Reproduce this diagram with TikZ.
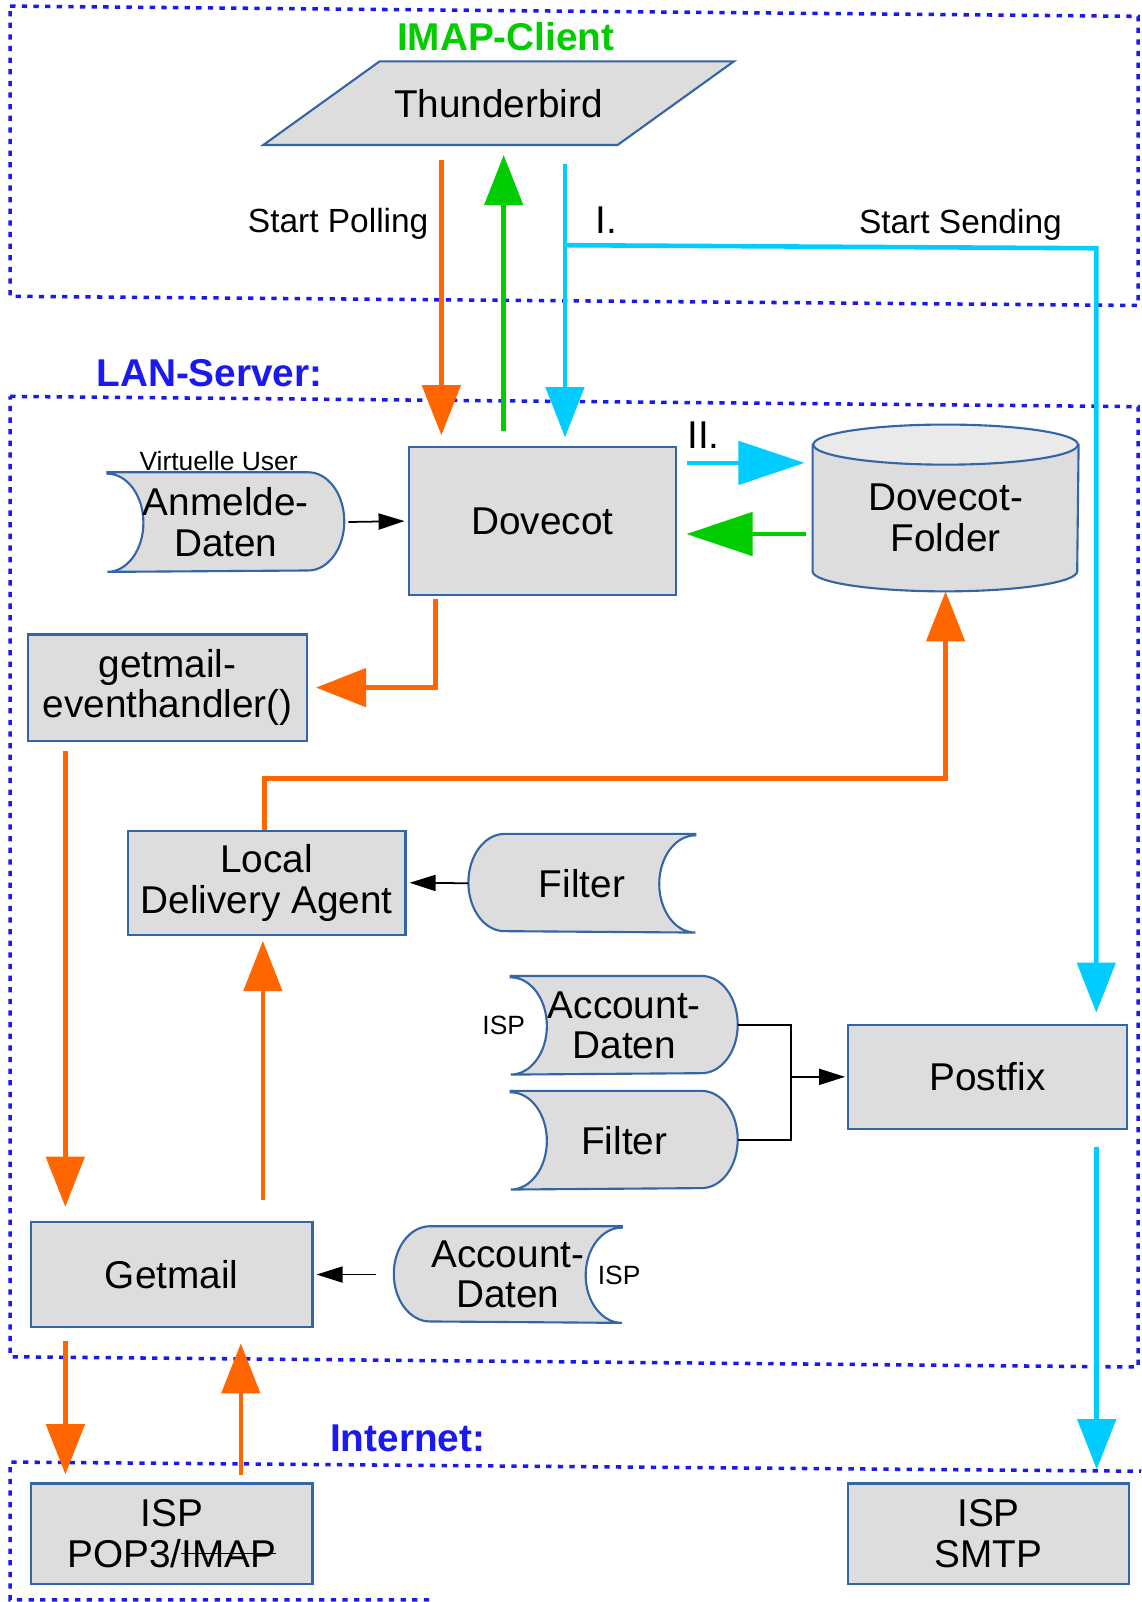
\documentclass[tikz,border=0pt]{standalone}
\usepackage{fontspec}
\setmainfont{Liberation Sans}
\usetikzlibrary{arrows.meta,backgrounds}

\definecolor{boxfill}{HTML}{DDDDDD}
\definecolor{boxtop}{HTML}{EAEAEA}
\definecolor{boxline}{HTML}{3465A4}
\definecolor{pollcol}{HTML}{FF6600}
\definecolor{replycol}{HTML}{00CC00}
\definecolor{sendcol}{HTML}{00CCFF}
\definecolor{zonecol}{HTML}{1A1AF0}

\tikzset{
  box/.style={draw=boxline, fill=boxfill, line width=0.6pt, inner sep=0pt,
    align=center, font=\fontsize{11}{11.5}\selectfont},
  store/.style={inner sep=0pt, align=center, font=\fontsize{11}{11.5}\selectfont},
  shapeline/.style={draw=boxline, fill=boxfill, line width=0.6pt},
  zone/.style={draw=zonecol, line width=1pt, dash pattern=on 1.5pt off 1.8pt},
  zonelabel/.style={font=\bfseries\fontsize{11}{12}\selectfont},
  note/.style={inner sep=0pt, font=\fontsize{9.5}{11}\selectfont},
  steplabel/.style={inner sep=0pt, font=\fontsize{11}{12}\selectfont},
  small/.style={font=\fontsize{7.5}{9}\selectfont},
  flow/.style={line width=1.3pt, -{Triangle[length=0.5cm,width=0.38cm]}},
  wideflow/.style={line width=1.3pt, -{Triangle[length=0.66cm,width=0.43cm]}},
  link/.style={line width=0.5pt, -{Triangle[length=0.26cm,width=0.16cm]}},
}

% struck-out word
\newcommand{\strikeword}[1]{\setbox0\hbox{#1}\rlap{\rule[0.33em]{\wd0}{0.5pt}}\box0}
% data store, hollow on the left
\newcommand{\storeleft}[2]{%
  \path[shapeline] (#1.north west) -- ([xshift=-0.36cm]#1.north east)
    arc[start angle=90, end angle=-90, x radius=0.36cm, y radius=#2]
    -- (#1.south west)
    arc[start angle=-90, end angle=90, x radius=0.36cm, y radius=#2] -- cycle;}
% data store, hollow on the right
\newcommand{\storeright}[2]{%
  \path[shapeline] (#1.north east) -- ([xshift=0.36cm]#1.north west)
    arc[start angle=90, end angle=270, x radius=0.36cm, y radius=#2]
    -- (#1.south east)
    arc[start angle=270, end angle=90, x radius=0.36cm, y radius=#2] -- cycle;}

\begin{document}
\begin{tikzpicture}[x=0.0102cm, y=-0.0102cm]
\useasboundingbox (0,0) rectangle (1117,1568);

% zones
\draw[zone] (10,6) -- (1114,16) -- (1114,299) -- (10,290) -- cycle;
\draw[zone] (10,388) -- (1114,398) -- (1114,1338) -- (10,1328) -- cycle;
\draw[zone] (420,1566) -- (10,1566) -- (10,1431) -- (1117,1440);

\node[zonelabel, text=replycol] (client) at (495,36) {IMAP-Client};
\node[zonelabel, text=zonecol] (lan) at (205,365) {LAN-Server:};
\node[zonelabel, text=zonecol] (net) at (399,1408) {Internet:};

% client
\node[store, minimum width=3.52cm, minimum height=0.82cm] (tb) at (488,101) {Thunderbird};

% server
\node[box, minimum width=2.67cm, minimum height=1.47cm] (dove) at (531,510) {Dovecot};
\node[store, minimum width=2.35cm, minimum height=0.98cm] (anm) at (221,511) {Anmelde-\\Daten};
\node[small] (vuser) at (214,451) {Virtuelle User};
\node[store, minimum width=2.64cm, minimum height=1.45cm] (fold) at (925.5,507) {Dovecot-\\Folder};
\node[box, minimum width=2.78cm, minimum height=1.06cm] (geh) at (164,673) {getmail-\\eventhandler()};
\node[box, minimum width=2.77cm, minimum height=1.04cm] (lda) at (261,864) {Local\\Delivery Agent};
\node[store, minimum width=2.25cm, minimum height=0.97cm] (filt1) at (569.5,864.5) {Filter};
\node[store, minimum width=2.25cm, minimum height=0.97cm] (acc1) at (611,1003.5) {Account-\\Daten};
\node[small] (isp1) at (493,1004) {ISP};
\node[store, minimum width=2.25cm, minimum height=0.97cm] (filt2) at (611,1116) {Filter};
\node[box, minimum width=2.78cm, minimum height=1.04cm] (post) at (966.5,1054) {Postfix};
\node[box, minimum width=2.81cm, minimum height=1.05cm] (gm) at (168,1247.5) {Getmail};
\node[store, minimum width=2.26cm, minimum height=0.95cm] (acc2) at (497,1247.5) {Account-\\Daten};
\node[small] (isp2) at (606,1248) {ISP};

% internet
\node[box, minimum width=2.81cm, minimum height=1.0cm] (pop) at (168,1501) {ISP\\POP3/\strikeword{IMAP}};
\node[box, minimum width=2.81cm, minimum height=1.0cm] (smtp) at (967.5,1501) {ISP\\SMTP};

\begin{scope}[on background layer]
  \path[shapeline] ([xshift=0.58cm]tb.north west) -- ([xshift=0.58cm]tb.north east)
    -- ([xshift=-0.58cm]tb.south east) -- ([xshift=-0.58cm]tb.south west) -- cycle;
  \storeleft{anm}{0.49cm}
  \storeleft{acc1}{0.485cm}
  \storeleft{filt2}{0.485cm}
  \storeright{filt1}{0.485cm}
  \storeright{acc2}{0.475cm}
  % folder cylinder
  \path[shapeline] (fold.north west) -- ([yshift=0.2cm]fold.south west)
    arc[start angle=180, end angle=360, x radius=1.32cm, y radius=0.2cm]
    -- (fold.north east) -- cycle;
  \path[shapeline, fill=boxtop] (fold.north) ellipse [x radius=1.32cm, y radius=0.2cm];
\end{scope}

% polling / reply / sending
\coordinate (pollstart) at (432,157);
\coordinate (replyfoot) at (493,422);
\coordinate (sendstart) at (553,161);
\coordinate (sendfork) at (553,240);
\coordinate (sendturn) at (1073,243);
\draw[flow, pollcol, shorten >=0.11cm] (pollstart) -- (pollstart |- dove.north);
\draw[flow, replycol, shorten >=0.1cm] (replyfoot) -- (replyfoot |- tb.south);
\draw[flow, sendcol, shorten >=0.09cm] (sendstart) -- (sendstart |- dove.north);
\draw[flow, sendcol, shorten >=0.11cm] (sendfork) -- (sendturn) -- (sendturn |- post.north);
\node[note, anchor=base east] (polltxt) at (420,228) {Start Polling};
\node[steplabel, anchor=base west] (step1) at (582,229) {I.};
\node[note, anchor=base] (sendtxt) at (940,229) {Start Sending};
\node[steplabel, anchor=base west] (step2) at (672,439) {II.};

\draw[link, shorten <=0.04cm, shorten >=0.03cm] (anm.east) -- (dove.west);
\draw[wideflow, sendcol, shorten <=0.1cm, shorten >=0.08cm] ([yshift=0.58cm]dove.east) -- ([yshift=0.58cm]dove.east -| fold.west);
\draw[wideflow, replycol, shorten <=0.07cm, shorten >=0.09cm] ([yshift=-0.16cm]fold.west) -- ([yshift=-0.16cm]fold.west -| dove.east);

% fetching
\coordinate (ldaturn) at (259,762);
\draw[flow, pollcol, shorten <=0.03cm, shorten >=0.08cm] ([xshift=-1.07cm]dove.south) |- (geh.east);
\draw[flow, pollcol, shorten <=0.09cm, shorten >=0.14cm] ([xshift=-1.02cm]geh.south) -- ([xshift=-1.02cm]geh.south |- gm.north);
\draw[flow, pollcol, shorten <=0.21cm, shorten >=0.05cm] ([xshift=0.91cm]gm.north) -- ([xshift=0.91cm]gm.north |- lda.south);
\draw[flow, pollcol] (lda.north -| ldaturn) -- (ldaturn) -| (fold.south);
\draw[link, shorten >=0.03cm] (filt1.west) -- (lda.east);
\draw[link, shorten <=0.18cm, shorten >=0.03cm] (acc2.west) -- (gm.east);
\draw[flow, pollcol, shorten <=0.13cm, shorten >=0.08cm] ([xshift=-1.06cm]gm.south) -- ([xshift=-1.06cm]gm.south |- pop.north);
\draw[flow, pollcol, shorten <=0.07cm, shorten >=0.15cm] ([xshift=0.69cm]pop.north) -- ([xshift=0.69cm]pop.north |- gm.south);

% sending out
\coordinate (merge) at (774,1054);
\draw[line width=0.5pt] (acc1.east) -| (merge) |- (filt2.east);
\draw[link, shorten >=0.02cm] (merge) -- (post.west);
\draw[flow, sendcol, shorten <=0.17cm, shorten >=0.13cm] ([xshift=1.09cm]post.south) -- ([xshift=1.09cm]post.south |- smtp.north);
\end{tikzpicture}
\end{document}
